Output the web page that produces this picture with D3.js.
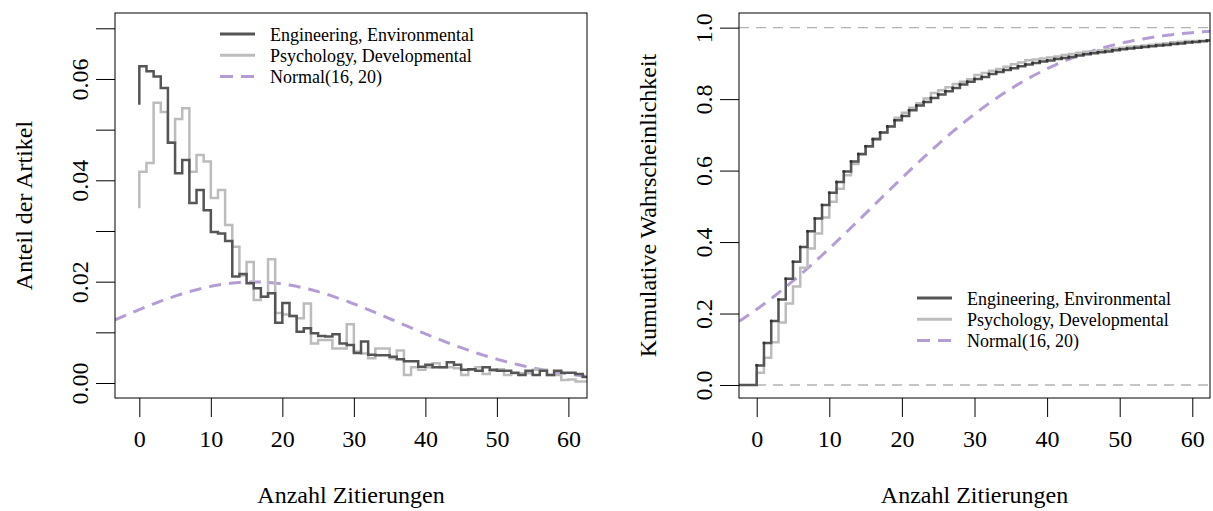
<!DOCTYPE html>
<html>
<head>
<meta charset="utf-8">
<script src="https://cdn.jsdelivr.net/npm/d3@7"></script>
<style>
body { margin: 0; background: #fff; }
</style>
</head>
<body>
<script>
// Anteil der Artikel je Zitierungsanzahl 0..63
var citations = d3.range(0, 64);

var engProp = [0.0549, 0.0625, 0.0615, 0.0605, 0.0582, 0.0474, 0.0414, 0.0440, 0.0355, 0.0381,
    0.0341, 0.0298, 0.0295, 0.0280, 0.0210, 0.0215, 0.0197, 0.0187, 0.0170, 0.0177,
    0.0119, 0.0158, 0.0132, 0.0101, 0.0108, 0.0098, 0.0093, 0.0092, 0.0096, 0.0078,
    0.0075, 0.0059, 0.0082, 0.0056, 0.0055, 0.0055, 0.0052, 0.0047, 0.0043, 0.0043,
    0.0032, 0.0036, 0.0031, 0.0031, 0.0041, 0.0036, 0.0026, 0.0027, 0.0024, 0.0031,
    0.0026, 0.0024, 0.0024, 0.0020, 0.0016, 0.0024, 0.0016, 0.0024, 0.0016, 0.0024,
    0.0020, 0.0020, 0.0018, 0.0012];

var psyProp = [0.0345, 0.0417, 0.0434, 0.0553, 0.0535, 0.0475, 0.0521, 0.0542, 0.0417, 0.0450,
    0.0437, 0.0365, 0.0381, 0.0312, 0.0269, 0.0212, 0.0239, 0.0164, 0.0170, 0.0244,
    0.0138, 0.0135, 0.0132, 0.0128, 0.0157, 0.0078, 0.0085, 0.0085, 0.0068, 0.0068,
    0.0116, 0.0062, 0.0058, 0.0049, 0.0068, 0.0068, 0.0049, 0.0064, 0.0016, 0.0031,
    0.0026, 0.0031, 0.0039, 0.0031, 0.0031, 0.0029, 0.0016, 0.0026, 0.0031, 0.0018,
    0.0024, 0.0027, 0.0016, 0.0019, 0.0019, 0.0019, 0.0026, 0.0026, 0.0016, 0.0016,
    0.0006, 0.0007, 0.0003, 0.0003];

// Normal(16, 20)
var normMean = 16,
    normSd = 20;

var seriesNames = ["Engineering, Environmental", "Psychology, Developmental", "Normal(16, 20)"];
var xTicks = [0, 10, 20, 30, 40, 50, 60];
var yTicksLeft = [0, 0.01, 0.02, 0.03, 0.04, 0.05, 0.06, 0.07];
var yTicksRight = [0, 0.2, 0.4, 0.6, 0.8, 1];

var darkCol = "#555555",
    lightCol = "#bcbcbc",
    normCol = "#b49dd4",
    font = "'Liberation Serif', 'Times New Roman', serif";

var plotTop = 13,
    plotBottom = 398;

function dnorm(x) {
    var z = (x - normMean) / normSd;
    return Math.exp(-0.5 * z * z) / (normSd * Math.sqrt(2 * Math.PI));
}

// Abramowitz-Stegun erf
function pnorm(x) {
    var z = (x - normMean) / (normSd * Math.SQRT2);
    var t = 1 / (1 + 0.3275911 * Math.abs(z));
    var y = 1 - (((((1.061405429 * t - 1.453152027) * t) + 1.421413741) * t - 0.284496736) * t + 0.254829592) * t * Math.exp(-z * z);
    return 0.5 * (1 + (z >= 0 ? y : -y));
}

var svg = d3.select("body").append("svg")
    .attr("width", 1213)
    .attr("height", 511)
    .style("background", "#fff");

function drawPanel(p) {
    var x = d3.scaleLinear().domain(p.xDomain).range([p.left, p.right]);
    var y = d3.scaleLinear().domain(p.yDomain).range([plotBottom, plotTop]);

    var g = svg.append("g");

    g.append("defs").append("clipPath")
        .attr("id", p.id)
        .append("rect")
        .attr("x", p.left)
        .attr("y", plotTop)
        .attr("width", p.right - p.left)
        .attr("height", plotBottom - plotTop);

    var plot = g.append("g").attr("clip-path", "url(#" + p.id + ")");
    p.draw(plot, x, y);

    // x axis
    var xa = g.append("g")
        .attr("transform", "translate(0," + plotBottom + ")")
        .call(d3.axisBottom(x).tickValues(xTicks).tickSize(19).tickSizeOuter(0))
        .attr("font-family", font)
        .attr("font-size", 24);
    xa.select(".domain").remove();
    xa.selectAll("text").attr("y", 49).attr("dy", null).attr("fill", "#000");
    xa.selectAll(".tick line").attr("stroke", "#000");

    // y axis, labels parallel to axis like R
    var ya = g.append("g")
        .attr("transform", "translate(" + p.left + ",0)")
        .call(d3.axisLeft(y).tickValues(p.yTicks).tickSize(19).tickSizeOuter(0).tickFormat(p.yFormat))
        .attr("font-family", font)
        .attr("font-size", 24);
    ya.select(".domain").remove();
    ya.selectAll(".tick line").attr("stroke", "#000");
    ya.selectAll("text")
        .attr("x", 0)
        .attr("y", -27)
        .attr("dy", null)
        .attr("text-anchor", "middle")
        .attr("transform", "rotate(-90)")
        .attr("fill", "#000");

    // box
    g.append("rect")
        .attr("x", p.left)
        .attr("y", plotTop)
        .attr("width", p.right - p.left)
        .attr("height", plotBottom - plotTop)
        .attr("fill", "none")
        .attr("stroke", "#000")
        .attr("stroke-width", 1);

    g.append("text")
        .attr("x", (p.left + p.right) / 2)
        .attr("y", 503)
        .attr("text-anchor", "middle")
        .style("font-family", font)
        .style("font-size", "24px")
        .text("Anzahl Zitierungen");

    g.append("text")
        .attr("transform", "translate(" + (p.left - 83) + "," + ((plotTop + plotBottom) / 2) + ") rotate(-90)")
        .attr("text-anchor", "middle")
        .style("font-family", font)
        .style("font-size", "24px")
        .text(p.yLabel);

    // legend
    var styles = [
        { col: darkCol, dash: null },
        { col: lightCol, dash: null },
        { col: normCol, dash: "13 8" }
    ];
    var leg = g.append("g");
    seriesNames.forEach(function (name, i) {
        var ly = p.legY + i * 21.3;
        leg.append("line")
            .attr("x1", p.legX)
            .attr("x2", p.legX + 35)
            .attr("y1", ly)
            .attr("y2", ly)
            .attr("stroke", styles[i].col)
            .attr("stroke-width", 3)
            .attr("stroke-dasharray", styles[i].dash);
        leg.append("text")
            .attr("x", p.legX + 50)
            .attr("y", ly + 6.5)
            .style("font-family", font)
            .style("font-size", "18px")
            .text(name);
    });
}

// left: relative frequencies
drawPanel({
    id: "clipL",
    left: 115,
    right: 587,
    xDomain: [-3.4, 62.6],
    yDomain: [-0.00296, 0.07302],
    yTicks: yTicksLeft,
    yFormat: function (d, i) { return i % 2 ? "" : d3.format(".2f")(d); },
    yLabel: "Anteil der Artikel",
    legX: 220,
    legY: 34,
    draw: function (plot, x, y) {
        var step = d3.line()
            .x(function (d) { return x(d[0]); })
            .y(function (d) { return y(d[1]); })
            .curve(d3.curveStepBefore);

        var xs = d3.range(x.domain()[0], x.domain()[1] + 0.2, 0.2);
        plot.append("path")
            .datum(xs.map(function (v) { return [v, dnorm(v)]; }))
            .attr("fill", "none")
            .attr("stroke", normCol)
            .attr("stroke-width", 3)
            .attr("stroke-dasharray", "12 8")
            .attr("d", d3.line().x(function (d) { return x(d[0]); }).y(function (d) { return y(d[1]); }));

        plot.append("path")
            .datum(citations.map(function (c, i) { return [c, psyProp[i]]; }))
            .attr("fill", "none")
            .attr("stroke", lightCol)
            .attr("stroke-width", 2.5)
            .attr("d", step);

        plot.append("path")
            .datum(citations.map(function (c, i) { return [c, engProp[i]]; }))
            .attr("fill", "none")
            .attr("stroke", darkCol)
            .attr("stroke-width", 2.5)
            .attr("d", step);
    }
});

// right: cumulative
drawPanel({
    id: "clipR",
    left: 739,
    right: 1210,
    xDomain: [-2.44, 62.44],
    yDomain: [-0.0364, 1.041],
    yTicks: yTicksRight,
    yFormat: d3.format(".1f"),
    yLabel: "Kumulative Wahrscheinlichkeit",
    legX: 917,
    legY: 298,
    draw: function (plot, x, y) {
        [0, 1].forEach(function (h) {
            plot.append("line")
                .attr("x1", x.range()[0])
                .attr("x2", x.range()[1])
                .attr("y1", y(h))
                .attr("y2", y(h))
                .attr("stroke", "#b3b3b3")
                .attr("stroke-width", 1.3)
                .attr("stroke-dasharray", "10 7");
        });

        var xs = d3.range(x.domain()[0], x.domain()[1] + 0.2, 0.2);
        plot.append("path")
            .datum(xs.map(function (v) { return [v, pnorm(v)]; }))
            .attr("fill", "none")
            .attr("stroke", normCol)
            .attr("stroke-width", 3)
            .attr("stroke-dasharray", "12 8")
            .attr("d", d3.line().x(function (d) { return x(d[0]); }).y(function (d) { return y(d[1]); }));

        var step = d3.line()
            .x(function (d) { return x(d[0]); })
            .y(function (d) { return y(d[1]); })
            .curve(d3.curveStepAfter);

        var engCum = d3.cumsum(engProp),
            psyCum = d3.cumsum(psyProp);

        function ecdfPoints(cum, start) {
            return [[start, 0]].concat(citations.map(function (c, i) { return [c, cum[i]]; }));
        }

        plot.append("path")
            .datum(ecdfPoints(psyCum, 0))
            .attr("fill", "none")
            .attr("stroke", lightCol)
            .attr("stroke-width", 2.5)
            .attr("d", step);

        plot.append("path")
            .datum(ecdfPoints(engCum, x.domain()[0]))
            .attr("fill", "none")
            .attr("stroke", darkCol)
            .attr("stroke-width", 2.5)
            .attr("d", step);

        plot.selectAll(".dot")
            .data(citations)
            .enter().append("circle")
            .attr("class", "dot")
            .attr("cx", function (c) { return x(c); })
            .attr("cy", function (c, i) { return y(engCum[i]); })
            .attr("r", 1.5)
            .attr("fill", "#333");
    }
});
</script>
</body>
</html>
